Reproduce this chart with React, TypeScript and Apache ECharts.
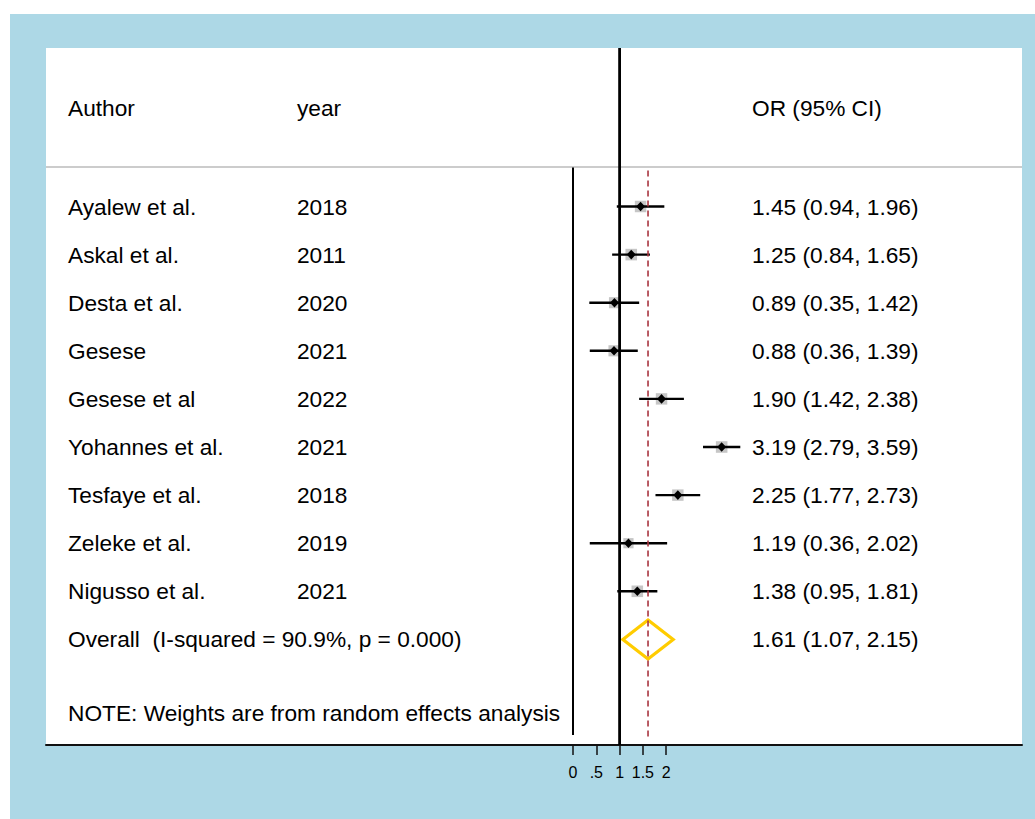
import React, { useEffect, useRef } from "react";
import * as echarts from "echarts";

const authors = [
  "Ayalew et al.",
  "Askal et al.",
  "Desta et al.",
  "Gesese",
  "Gesese et al",
  "Yohannes et al.",
  "Tesfaye et al.",
  "Zeleke et al.",
  "Nigusso et al.",
];
const years = ["2018", "2011", "2020", "2021", "2022", "2021", "2018", "2019", "2021"];
const orValues = [1.45, 1.25, 0.89, 0.88, 1.9, 3.19, 2.25, 1.19, 1.38];
const ciLow = [0.94, 0.84, 0.35, 0.36, 1.42, 2.79, 1.77, 0.36, 0.95];
const ciHigh = [1.96, 1.65, 1.42, 1.39, 2.38, 3.59, 2.73, 2.02, 1.81];
const weights = [11.4, 11.6, 10.6, 10.7, 11.3, 11.6, 11.3, 9.0, 11.6];

const overallLabel = "Overall  (I-squared = 90.9%, p = 0.000)";
const overallValues = [1.61, 1.07, 2.15]; // OR, low, high
const noteText = "NOTE: Weights are from random effects analysis";
const headers = ["Author", "year", "OR (95% CI)"];

const xTicks = [0, 0.5, 1, 1.5, 2];
const xTickLabels = ["0", ".5", "1", "1.5", "2"];

const fmt = (v: number) => v.toFixed(2);

export default function App() {
  const ref = useRef<HTMLDivElement>(null);

  useEffect(() => {
    if (!ref.current) return;
    const chart = echarts.init(ref.current, undefined, { renderer: "svg" });

    const PX_PER_UNIT = 46.6;
    const ZERO_PX = 573;
    const GRID_L = 46;
    const GRID_R = 1022;
    const xMin = (GRID_L - ZERO_PX) / PX_PER_UNIT;
    const xMax = (GRID_R - ZERO_PX) / PX_PER_UNIT;

    const ROW_PX = 48.1;
    const GRID_T = 48;
    const GRID_B = 745;
    const yMin = -(206.5 - GRID_T) / ROW_PX;
    const yMax = yMin + (GRID_B - GRID_T) / ROW_PX;

    const headerRow = -2.04;
    const sepRow = -0.82;
    const overallRow = authors.length;
    const noteRow = 10.53;

    const FONT = '"Liberation Sans", Arial, sans-serif';
    const FS = 22.7;

    type TRow = { y: number; text: string; off: number };
    const textRows: TRow[] = [];
    headers.forEach((h, k) =>
      textRows.push({ y: headerRow, text: h, off: [22, 251, 706][k] })
    );
    authors.forEach((a, i) => {
      textRows.push({ y: i, text: a, off: 22 });
      textRows.push({ y: i, text: years[i], off: 251 });
      textRows.push({
        y: i,
        text: `${fmt(orValues[i])} (${fmt(ciLow[i])}, ${fmt(ciHigh[i])})`,
        off: 706,
      });
    });
    textRows.push({ y: overallRow, text: overallLabel, off: 22 });
    textRows.push({
      y: overallRow,
      text: `${fmt(overallValues[0])} (${fmt(overallValues[1])}, ${fmt(overallValues[2])})`,
      off: 706,
    });
    textRows.push({ y: noteRow, text: noteText, off: 22 });

    const studyData = authors.map((_, i) => [i, orValues[i], ciLow[i], ciHigh[i], weights[i]]);

    const option: any = {
      animation: false,
      backgroundColor: "transparent",
      graphic: [
        {
          type: "rect",
          z: -20,
          silent: true,
          shape: { x: 10, y: 14, width: 1025, height: 805 },
          style: { fill: "#add8e6" },
        },
        {
          type: "rect",
          z: -19,
          silent: true,
          shape: { x: GRID_L, y: GRID_T, width: GRID_R - GRID_L, height: GRID_B - GRID_T },
          style: { fill: "#ffffff" },
        },
      ],
      grid: {
        left: GRID_L,
        top: GRID_T,
        width: GRID_R - GRID_L,
        height: GRID_B - GRID_T,
        show: false,
      },
      xAxis: {
        type: "value",
        min: xMin,
        max: xMax,
        splitLine: { show: false },
        axisLine: { show: true, onZero: false, lineStyle: { color: "#111", width: 2 } },
        axisTick: {
          show: true,
          customValues: xTicks,
          length: 10,
          lineStyle: { color: "#111", width: 1.5 },
        },
        axisLabel: {
          show: true,
          customValues: xTicks,
          margin: 19,
          color: "#000",
          fontSize: 16,
          fontFamily: FONT,
          hideOverlap: false,
          formatter: (v: number) => {
            const k = xTicks.findIndex((t) => Math.abs(t - v) < 1e-6);
            return k >= 0 ? xTickLabels[k] : "";
          },
        },
      },
      yAxis: {
        type: "value",
        inverse: true,
        min: yMin,
        max: yMax,
        show: false,
      },
      series: [
        {
          type: "line",
          symbol: "none",
          silent: true,
          data: [
            [xMin, sepRow],
            [xMax, sepRow],
          ],
          lineStyle: { color: "#cccccc", width: 2 },
        },
        {
          type: "line",
          symbol: "none",
          silent: true,
          data: [
            [0, -0.81],
            [0, 10.99],
          ],
          lineStyle: { color: "#000", width: 2 },
        },
        {
          type: "line",
          symbol: "none",
          silent: true,
          data: [
            [1, yMin],
            [1, yMax],
          ],
          lineStyle: { color: "#000", width: 2.8 },
        },
        {
          type: "line",
          symbol: "none",
          silent: true,
          data: [
            [overallValues[0], -0.75],
            [overallValues[0], 11.02],
          ],
          lineStyle: { color: "#a8343f", width: 1.6, type: [6, 4] },
        },
        {
          type: "custom",
          silent: true,
          data: studyData,
          encode: { x: [1, 2, 3], y: 0 },
          renderItem: (params: any, api: any) => {
            const y = api.value(0);
            const pOr = api.coord([api.value(1), y]);
            const pLo = api.coord([api.value(2), y]);
            const pHi = api.coord([api.value(3), y]);
            const s = 3.4 * Math.sqrt(api.value(4));
            const cx = pOr[0];
            const cy = pOr[1];
            return {
              type: "group",
              children: [
                {
                  type: "rect",
                  shape: { x: cx - s / 2, y: cy - s / 2, width: s, height: s },
                  style: { fill: "#c6c6c6" },
                },
                {
                  type: "line",
                  shape: { x1: pLo[0], y1: pLo[1], x2: pHi[0], y2: pHi[1] },
                  style: { stroke: "#000", lineWidth: 2.4 },
                },
                {
                  type: "polygon",
                  shape: {
                    points: [
                      [cx, cy - 4.8],
                      [cx + 4.5, cy],
                      [cx, cy + 4.8],
                      [cx - 4.5, cy],
                    ],
                  },
                  style: { fill: "#000" },
                },
              ],
            };
          },
        },
        {
          type: "custom",
          silent: true,
          data: [[overallValues[0], overallValues[1], overallValues[2], overallRow]],
          encode: { x: [0, 1, 2], y: 3 },
          renderItem: (params: any, api: any) => {
            const y = api.value(3);
            const pOr = api.coord([api.value(0), y]);
            const pLo = api.coord([api.value(1), y]);
            const pHi = api.coord([api.value(2), y]);
            const h = 19.5;
            return {
              type: "polygon",
              shape: {
                points: [
                  [pLo[0], pLo[1]],
                  [pOr[0], pOr[1] - h],
                  [pHi[0], pHi[1]],
                  [pOr[0], pOr[1] + h],
                ],
              },
              style: { fill: "none", stroke: "#ffcc00", lineWidth: 3.2, lineJoin: "miter" },
            };
          },
        },
        {
          type: "custom",
          silent: true,
          data: textRows.map((r) => [0, r.y]),
          encode: { x: 0, y: 1 },
          renderItem: (params: any, api: any) => {
            const r = textRows[params.dataIndex];
            const p = api.coord([0, api.value(1)]);
            return {
              type: "text",
              x: params.coordSys.x + r.off,
              y: p[1],
              style: {
                text: r.text,
                fill: "#000",
                fontSize: FS,
                fontFamily: FONT,
                align: "left",
                verticalAlign: "middle",
              },
            };
          },
        },
      ],
    };

    chart.setOption(option);
    return () => chart.dispose();
  }, []);

  return (
    <div
      style={{
        position: "absolute",
        left: 0,
        top: 0,
        width: 1035,
        height: 819,
        background: "#ffffff",
      }}
    >
      <div ref={ref} style={{ width: 1035, height: 819 }} />
    </div>
  );
}
